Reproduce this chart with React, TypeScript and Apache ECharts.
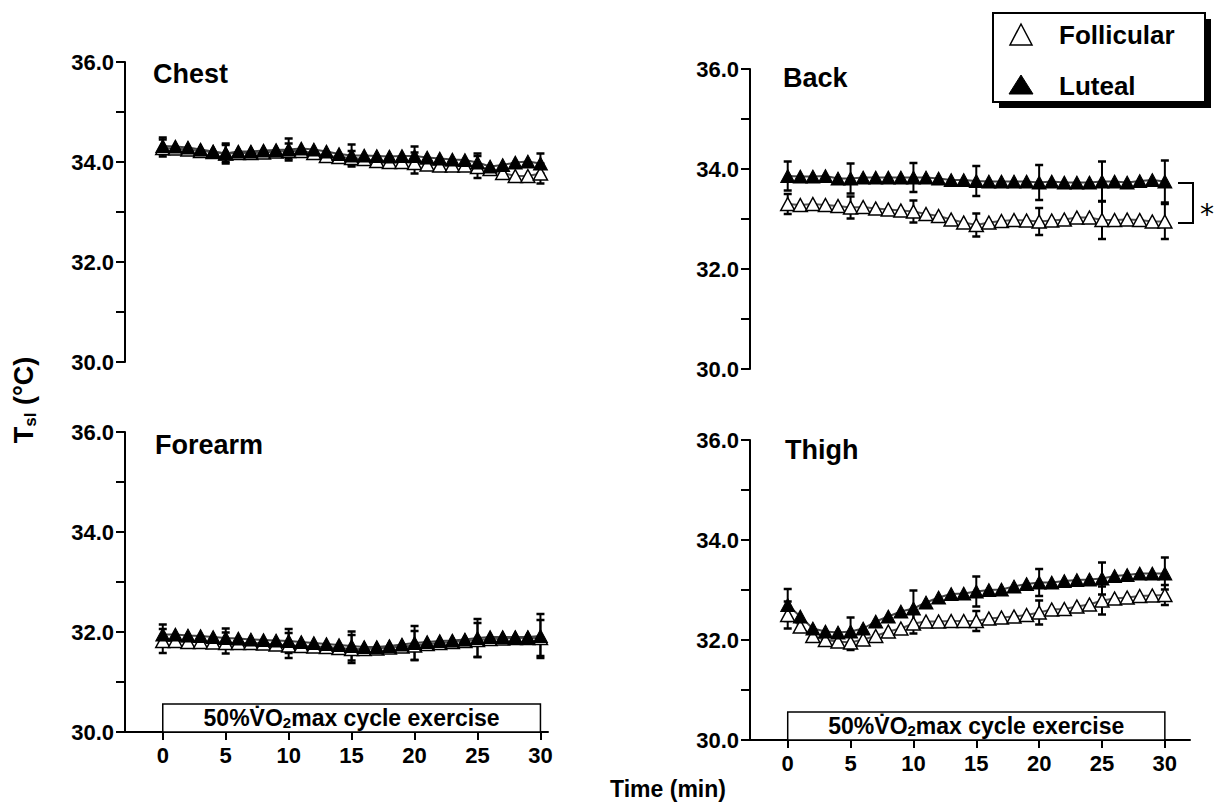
import React, { useEffect, useRef } from "react";
import * as echarts from "echarts";

// ---------- data ----------
const minutes = [0, 1, 2, 3, 4, 5, 6, 7, 8, 9, 10, 11, 12, 13, 14, 15, 16, 17, 18, 19, 20, 21, 22, 23, 24, 25, 26, 27, 28, 29, 30];
const errMinutes = [0, 5, 10, 15, 20, 25, 30];
const xTickValues = [0, 5, 10, 15, 20, 25, 30];
const exerciseSpan = [0, 30];
const panelNames = ["Chest", "Back", "Forearm", "Thigh"];
const legendNames = ["Follicular", "Luteal"];

const chestFollicular = [34.28, 34.27, 34.25, 34.22, 34.2, 34.17, 34.18, 34.18, 34.19, 34.21, 34.22, 34.22, 34.18, 34.12, 34.1, 34.08, 34.06, 34.02, 34.0, 34.0, 33.98, 33.95, 33.93, 33.93, 33.93, 33.9, 33.86, 33.78, 33.72, 33.72, 33.77];
const chestLuteal = [34.32, 34.31, 34.29, 34.25, 34.21, 34.17, 34.21, 34.21, 34.23, 34.24, 34.25, 34.27, 34.25, 34.21, 34.16, 34.13, 34.13, 34.12, 34.11, 34.12, 34.12, 34.09, 34.07, 34.05, 34.04, 33.99, 33.91, 33.94, 33.99, 34.01, 33.97];
const chestFollicularSE = [0.17, 0.17, 0.15, 0.14, 0.21, 0.22, 0.2];
const chestLutealSE = [0.17, 0.2, 0.22, 0.22, 0.19, 0.18, 0.2];

const backFollicular = [33.3, 33.28, 33.3, 33.28, 33.26, 33.23, 33.24, 33.21, 33.19, 33.17, 33.15, 33.1, 33.06, 32.99, 32.93, 32.88, 32.93, 32.96, 32.98, 32.97, 32.95, 32.97, 32.99, 33.03, 33.03, 32.98, 32.98, 32.99, 32.98, 32.95, 32.95];
const backLuteal = [33.86, 33.85, 33.85, 33.86, 33.81, 33.81, 33.83, 33.83, 33.83, 33.83, 33.83, 33.83, 33.81, 33.78, 33.78, 33.76, 33.75, 33.75, 33.75, 33.75, 33.73, 33.75, 33.73, 33.73, 33.73, 33.75, 33.75, 33.73, 33.76, 33.78, 33.75];
const backFollicularSE = [0.2, 0.22, 0.22, 0.23, 0.27, 0.38, 0.35];
const backLutealSE = [0.29, 0.3, 0.29, 0.3, 0.35, 0.4, 0.42];

const forearmFollicular = [31.82, 31.82, 31.8, 31.8, 31.79, 31.78, 31.78, 31.78, 31.77, 31.75, 31.73, 31.72, 31.71, 31.7, 31.68, 31.66, 31.66, 31.67, 31.69, 31.71, 31.73, 31.76, 31.78, 31.8, 31.82, 31.84, 31.86, 31.87, 31.88, 31.88, 31.88];
const forearmLuteal = [31.95, 31.95, 31.93, 31.92, 31.9, 31.88, 31.87, 31.85, 31.84, 31.83, 31.82, 31.8, 31.78, 31.76, 31.74, 31.72, 31.7, 31.7, 31.72, 31.75, 31.78, 31.8, 31.82, 31.83, 31.85, 31.88, 31.9, 31.9, 31.9, 31.9, 31.92];
const forearmFollicularSE = [0.24, 0.21, 0.25, 0.28, 0.29, 0.34, 0.36];
const forearmLutealSE = [0.2, 0.19, 0.24, 0.29, 0.34, 0.38, 0.44];

const thighFollicular = [32.5, 32.27, 32.08, 32.0, 31.97, 31.95, 32.01, 32.08, 32.17, 32.23, 32.33, 32.37, 32.37, 32.38, 32.38, 32.38, 32.43, 32.45, 32.47, 32.5, 32.55, 32.61, 32.62, 32.67, 32.71, 32.79, 32.83, 32.85, 32.88, 32.89, 32.9];
const thighLuteal = [32.7, 32.47, 32.23, 32.17, 32.15, 32.17, 32.23, 32.37, 32.47, 32.57, 32.63, 32.75, 32.85, 32.92, 32.93, 32.97, 33.0, 33.01, 33.07, 33.12, 33.15, 33.15, 33.18, 33.2, 33.21, 33.23, 33.28, 33.3, 33.33, 33.33, 33.33];
const thighFollicularSE = [0.27, 0.15, 0.2, 0.2, 0.24, 0.28, 0.2];
const thighLutealSE = [0.32, 0.28, 0.36, 0.3, 0.27, 0.32, 0.32];

// ---------- layout ----------
const FONT = "Liberation Sans, Arial, sans-serif";

const panels = [
  { fol: chestFollicular, lut: chestLuteal, folSE: chestFollicularSE, lutSE: chestLutealSE, grid: { left: 125, top: 62, width: 423, height: 300 }, xmax: 30.6, showX: false, box: false, title: [153, 74] },
  { fol: backFollicular, lut: backLuteal, folSE: backFollicularSE, lutSE: backLutealSE, grid: { left: 750, top: 69, width: 440, height: 300 }, xmax: 32, showX: false, box: false, title: [783, 78] },
  { fol: forearmFollicular, lut: forearmLuteal, folSE: forearmFollicularSE, lutSE: forearmLutealSE, grid: { left: 125, top: 432, width: 423, height: 300 }, xmax: 30.6, showX: true, box: true, title: [155, 445] },
  { fol: thighFollicular, lut: thighLuteal, folSE: thighFollicularSE, lutSE: thighLutealSE, grid: { left: 750, top: 440, width: 440, height: 300 }, xmax: 32, showX: true, box: true, title: [785, 450] },
];

function errorData(vals: number[], se: number[]) {
  return errMinutes.map((t, i) => [t, vals[minutes.indexOf(t)], se[i]]);
}

function renderError(params: any, api: any) {
  const x = api.value(0);
  const y = api.value(1);
  const e = api.value(2);
  const top = api.coord([x, y + e]);
  const bot = api.coord([x, y - e]);
  const w = 4;
  const st = { stroke: "#000", lineWidth: 2 };
  return {
    type: "group",
    children: [
      { type: "line", shape: { x1: top[0], y1: top[1], x2: bot[0], y2: bot[1] }, style: st },
      { type: "line", shape: { x1: top[0] - w, y1: top[1], x2: top[0] + w, y2: top[1] }, style: { stroke: "#000", lineWidth: 2.5 } },
      { type: "line", shape: { x1: bot[0] - w, y1: bot[1], x2: bot[0] + w, y2: bot[1] }, style: { stroke: "#000", lineWidth: 2.5 } },
    ],
  };
}

export default function App() {
  const ref = useRef<HTMLDivElement>(null);

  useEffect(() => {
    if (!ref.current) return;
    const chart = echarts.init(ref.current, undefined, { renderer: "svg" });

    const grids = panels.map((p) => ({ ...p.grid, containLabel: false }));
    const xAxes = panels.map((p, i) => ({
      type: "value",
      gridIndex: i,
      min: -3,
      max: p.xmax,
      show: p.showX,
      splitLine: { show: false },
      axisLine: { show: true, onZero: false, lineStyle: { color: "#000", width: 2 } },
      axisTick: { show: true, customValues: xTickValues, length: 8, lineStyle: { color: "#000", width: 2 } },
      axisLabel: { show: true, customValues: xTickValues, margin: 12, color: "#000", fontFamily: FONT, fontWeight: "bold", fontSize: 22 },
    }));
    const yAxes = panels.map((p, i) => ({
      type: "value",
      gridIndex: i,
      min: 30,
      max: 36,
      interval: 2,
      splitLine: { show: false },
      axisLine: { show: true, onZero: false, lineStyle: { color: "#000", width: 2 } },
      axisTick: { show: true, length: 9, lineStyle: { color: "#000", width: 2 } },
      minorTick: { show: true, splitNumber: 2, length: 9, lineStyle: { color: "#000", width: 2 } },
      axisLabel: { margin: 11, color: "#000", fontFamily: FONT, fontWeight: "bold", fontSize: 22, formatter: (v: number) => v.toFixed(1) },
    }));

    const series: any[] = [];
    panels.forEach((p, i) => {
      series.push({
        type: "custom",
        xAxisIndex: i,
        yAxisIndex: i,
        renderItem: renderError,
        encode: { x: 0, y: 1 },
        data: errorData(p.fol, p.folSE),
        z: 2,
        silent: true,
      });
      series.push({
        type: "custom",
        xAxisIndex: i,
        yAxisIndex: i,
        renderItem: renderError,
        encode: { x: 0, y: 1 },
        data: errorData(p.lut, p.lutSE),
        z: 2,
        silent: true,
      });
      const fol: any = {
        type: "line",
        name: legendNames[0],
        xAxisIndex: i,
        yAxisIndex: i,
        data: minutes.map((t, k) => [t, p.fol[k]]),
        symbol: "triangle",
        symbolSize: [14, 13],
        showAllSymbol: true,
        itemStyle: { color: "#fff", borderColor: "#000", borderWidth: 1.5 },
        lineStyle: { color: "#555", width: 2 },
        z: 3,
        silent: true,
      };
      if (p.box) {
        fol.markArea = {
          silent: true,
          itemStyle: { color: "#fff", borderColor: "#000", borderWidth: 1.5 },
          label: {
            show: true,
            position: "inside",
            color: "#000",
            formatter: "{n|50%V\u0307O}{s|2}{n|max cycle exercise}",
            rich: {
              n: { fontFamily: FONT, fontWeight: "bold", fontSize: 23, lineHeight: 24, color: "#000" },
              s: { fontFamily: FONT, fontWeight: "bold", fontSize: 15, lineHeight: 12, verticalAlign: "bottom", color: "#000" },
            },
          },
          data: [[{ coord: [exerciseSpan[0], 30] }, { coord: [exerciseSpan[1], 30.56] }]],
        };
      }
      series.push(fol);
      series.push({
        type: "line",
        name: legendNames[1],
        xAxisIndex: i,
        yAxisIndex: i,
        data: minutes.map((t, k) => [t, p.lut[k]]),
        symbol: "triangle",
        symbolSize: [14, 13],
        showAllSymbol: true,
        itemStyle: { color: "#000", borderColor: "#000", borderWidth: 1 },
        lineStyle: { color: "#444", width: 2 },
        z: 4,
        silent: true,
      });
    });

    const titleText = panels.map((p, i) => ({
      type: "text",
      x: p.title[0],
      y: p.title[1],
      style: { text: panelNames[i], fontFamily: FONT, fontWeight: "bold", fontSize: 27, fill: "#000", verticalAlign: "middle" },
    }));

    const graphic: any[] = [
      ...titleText,
      // legend
      { type: "rect", shape: { x: 999, y: 19, width: 212, height: 89 }, style: { fill: "#000" } },
      { type: "rect", shape: { x: 993, y: 13, width: 212, height: 89 }, style: { fill: "#fff", stroke: "#000", lineWidth: 2 } },
      { type: "polygon", shape: { points: [[1010, 45], [1032, 45], [1021, 24]] }, style: { fill: "#fff", stroke: "#000", lineWidth: 1.5 } },
      { type: "polygon", shape: { points: [[1009, 94], [1033, 94], [1021, 75]] }, style: { fill: "#000", stroke: "#000", lineWidth: 1 } },
      { type: "text", x: 1059, y: 35, style: { text: legendNames[0], fontFamily: FONT, fontWeight: "bold", fontSize: 26, fill: "#000", verticalAlign: "middle" } },
      { type: "text", x: 1059, y: 86, style: { text: legendNames[1], fontFamily: FONT, fontWeight: "bold", fontSize: 26, fill: "#000", verticalAlign: "middle" } },
      // significance bracket
      { type: "polyline", shape: { points: [[1178, 183], [1193, 183], [1193, 223], [1178, 223]] }, style: { stroke: "#000", lineWidth: 2, fill: "none" } },
      { type: "text", x: 1207, y: 214, style: { text: "*", fontFamily: "DejaVu Sans", fontSize: 28, fill: "#000", align: "center", verticalAlign: "middle" } },
      // axis titles
      { type: "text", x: 668, y: 789, style: { text: "Time (min)", fontFamily: FONT, fontWeight: "bold", fontSize: 23, fill: "#000", align: "center", verticalAlign: "middle" } },
      {
        type: "text",
        x: 24,
        y: 400,
        rotation: Math.PI / 2,
        style: {
          text: "{t|T}{s|sl}{t| (°C)}",
          align: "center",
          verticalAlign: "middle",
          rich: {
            t: { fontFamily: FONT, fontWeight: "bold", fontSize: 27, lineHeight: 30, fill: "#000" },
            s: { fontFamily: FONT, fontWeight: "bold", fontSize: 17, lineHeight: 14, verticalAlign: "bottom", fill: "#000" },
          },
        },
      },
    ];

    chart.setOption({
      animation: false,
      backgroundColor: "#fff",
      grid: grids,
      xAxis: xAxes,
      yAxis: yAxes,
      series,
      graphic,
    });

    return () => chart.dispose();
  }, []);

  return <div ref={ref} style={{ position: "fixed", left: 0, top: 0, width: 1218, height: 807 }} />;
}
